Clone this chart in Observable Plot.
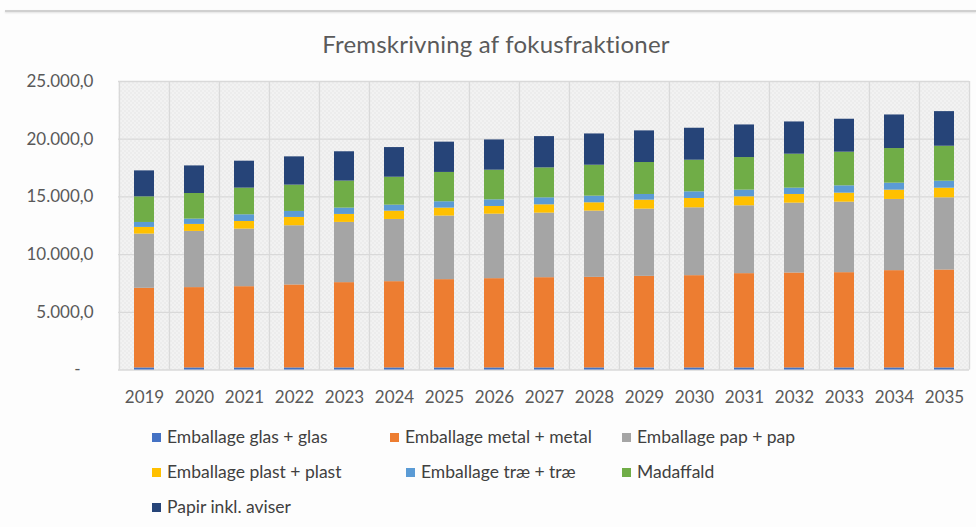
<!DOCTYPE html>
<html><head><meta charset="utf-8">
<script src="https://cdn.jsdelivr.net/npm/d3@7"></script>
<script src="https://cdn.jsdelivr.net/npm/@observablehq/plot@0.6"></script>
<style>
body{margin:0;background:#fff;}
#wrap{position:relative;width:976px;height:527px;background:#fdfdfd;font-family:Lato,"Open Sans",sans-serif;overflow:hidden;}
#topline{position:absolute;left:5px;right:0;top:10px;height:2px;background:#d0d0d0;box-shadow:0 1px 2px #e0e0e0;}
#title{position:absolute;left:0;width:992px;top:29px;text-align:center;font-size:24px;color:#5a5a5a;letter-spacing:0.2px;}
#chart{position:absolute;left:0;top:70px;}
.leg{position:absolute;font-size:17.5px;color:#404040;white-space:nowrap;line-height:20px;}
.sw{display:inline-block;width:9px;height:9px;margin-right:6px;vertical-align:middle;position:relative;top:-1px}
</style></head>
<body>
<div id="wrap">
  <div id="topline"></div>
  <div id="title">Fremskrivning af fokusfraktioner</div>
  <div id="chart"></div>
  <div id="legend"></div>
</div>
<script>
const years = [2019,2020,2021,2022,2023,2024,2025,2026,2027,2028,2029,2030,2031,2032,2033,2034,2035];
const seriesNames = ["Emballage glas + glas","Emballage metal + metal","Emballage pap + pap","Emballage plast + plast","Emballage træ + træ","Madaffald","Papir inkl. aviser"];
const colors = ["#4472C4","#ED7D31","#A5A5A5","#FFC000","#5B9BD5","#70AD47","#264478"];
const glas  = [180,180,180,180,180,180,180,180,180,180,180,180,180,180,180,180,180];
const metal = [6900,6960,7040,7190,7390,7475,7650,7735,7820,7850,7935,7995,8170,8225,8255,8430,8485];
const pap   = [4700,4870,4990,5130,5220,5390,5510,5590,5595,5740,5825,5880,5880,6055,6110,6170,6255];
const plast = [575,605,660,720,690,720,690,665,720,720,780,810,780,750,780,805,835];
const trae  = [430,460,580,520,550,520,550,575,605,575,490,575,575,550,635,605,605];
const mad   = [2220,2220,2310,2280,2340,2420,2540,2570,2595,2680,2770,2740,2825,2940,2915,3000,3030];
const papir = [2250,2390,2335,2450,2540,2570,2625,2620,2710,2710,2740,2770,2825,2795,2855,2910,3000];
const yTicks = [0,5000,10000,15000,20000,25000];

const seriesValues = [glas, metal, pap, plast, trae, mad, papir];
const data = [];
years.forEach((yr, i) => {
  seriesNames.forEach((s, j) => data.push({year: String(yr), series: s, value: seriesValues[j][i]}));
});

const W = 976, H = 345, mL = 118, mR = 7, mT = 11, mB = 45.5;
const step = (W - mL - mR) / years.length;
const loc = d3.formatLocale({decimal: ",", thousands: ".", grouping: [3], currency: ["", ""]});
const fmt = loc.format(",.1f");

const chart = Plot.plot({
  width: W, height: H,
  marginLeft: mL, marginRight: mR, marginTop: mT, marginBottom: mB,
  style: {fontFamily: "Lato, 'Open Sans', sans-serif", fontSize: "17px", color: "#595959", background: "transparent"},
  x: {domain: years.map(String), paddingInner: 0.6, paddingOuter: 0.3, label: null, tickSize: 0, tickPadding: 21},
  y: {domain: [0, 25000], ticks: yTicks, label: null, tickSize: 0, tickPadding: 25,
      tickFormat: d => d === 0 ? "-\u00a0\u00a0\u00a0" : fmt(d)},
  color: {domain: seriesNames, range: colors},
  marks: [
    Plot.frame({fill: "url(#dotpat)", stroke: null}),
    Plot.ruleY(yTicks, {stroke: "#d9d9d9", strokeWidth: 1.3}),
    Plot.ruleX(years.map(String), {x: d => d, dx: -step / 2, stroke: "#d9d9d9", strokeWidth: 1.3}),
    Plot.ruleX([String(years[years.length - 1])], {x: d => d, dx: step / 2, stroke: "#d9d9d9", strokeWidth: 1.3}),
    Plot.barY(data, {x: "year", y: "value", fill: "series", order: null})
  ]
});

// pattern for plot area background
const ns = "http://www.w3.org/2000/svg";
const defs = document.createElementNS(ns, "defs");
const pat = document.createElementNS(ns, "pattern");
pat.setAttribute("id", "dotpat");
pat.setAttribute("width", 4); pat.setAttribute("height", 4);
pat.setAttribute("patternUnits", "userSpaceOnUse");
const bg = document.createElementNS(ns, "rect");
bg.setAttribute("width", 4); bg.setAttribute("height", 4); bg.setAttribute("fill", "#f8f8f8");
pat.appendChild(bg);
for (let x = 0; x < 4; x++) for (let y = 0; y < 4; y++) {
  if ((x + y) % 4 === 0 || ((x - y + 4) % 4) === 0) {
    const r = document.createElementNS(ns, "rect");
    r.setAttribute("x", x); r.setAttribute("y", y); r.setAttribute("width", 1); r.setAttribute("height", 1);
    r.setAttribute("fill", "#e0e0e0");
    pat.appendChild(r);
  }
}
defs.appendChild(pat);
chart.insertBefore(defs, chart.firstChild);
document.getElementById("chart").appendChild(chart);

// legend
const legPos = [[152,437],[390,437],[622,437],[152,472],[406,472],[622,472],[152,507]];
const legend = document.getElementById("legend");
seriesNames.forEach((s, i) => {
  const d = document.createElement("div");
  d.className = "leg";
  d.style.left = legPos[i][0] + "px";
  d.style.top = (legPos[i][1] - 10) + "px";
  d.innerHTML = `<span class="sw" style="background:${colors[i]}"></span>${s}`;
  legend.appendChild(d);
});
</script>
</body></html>
